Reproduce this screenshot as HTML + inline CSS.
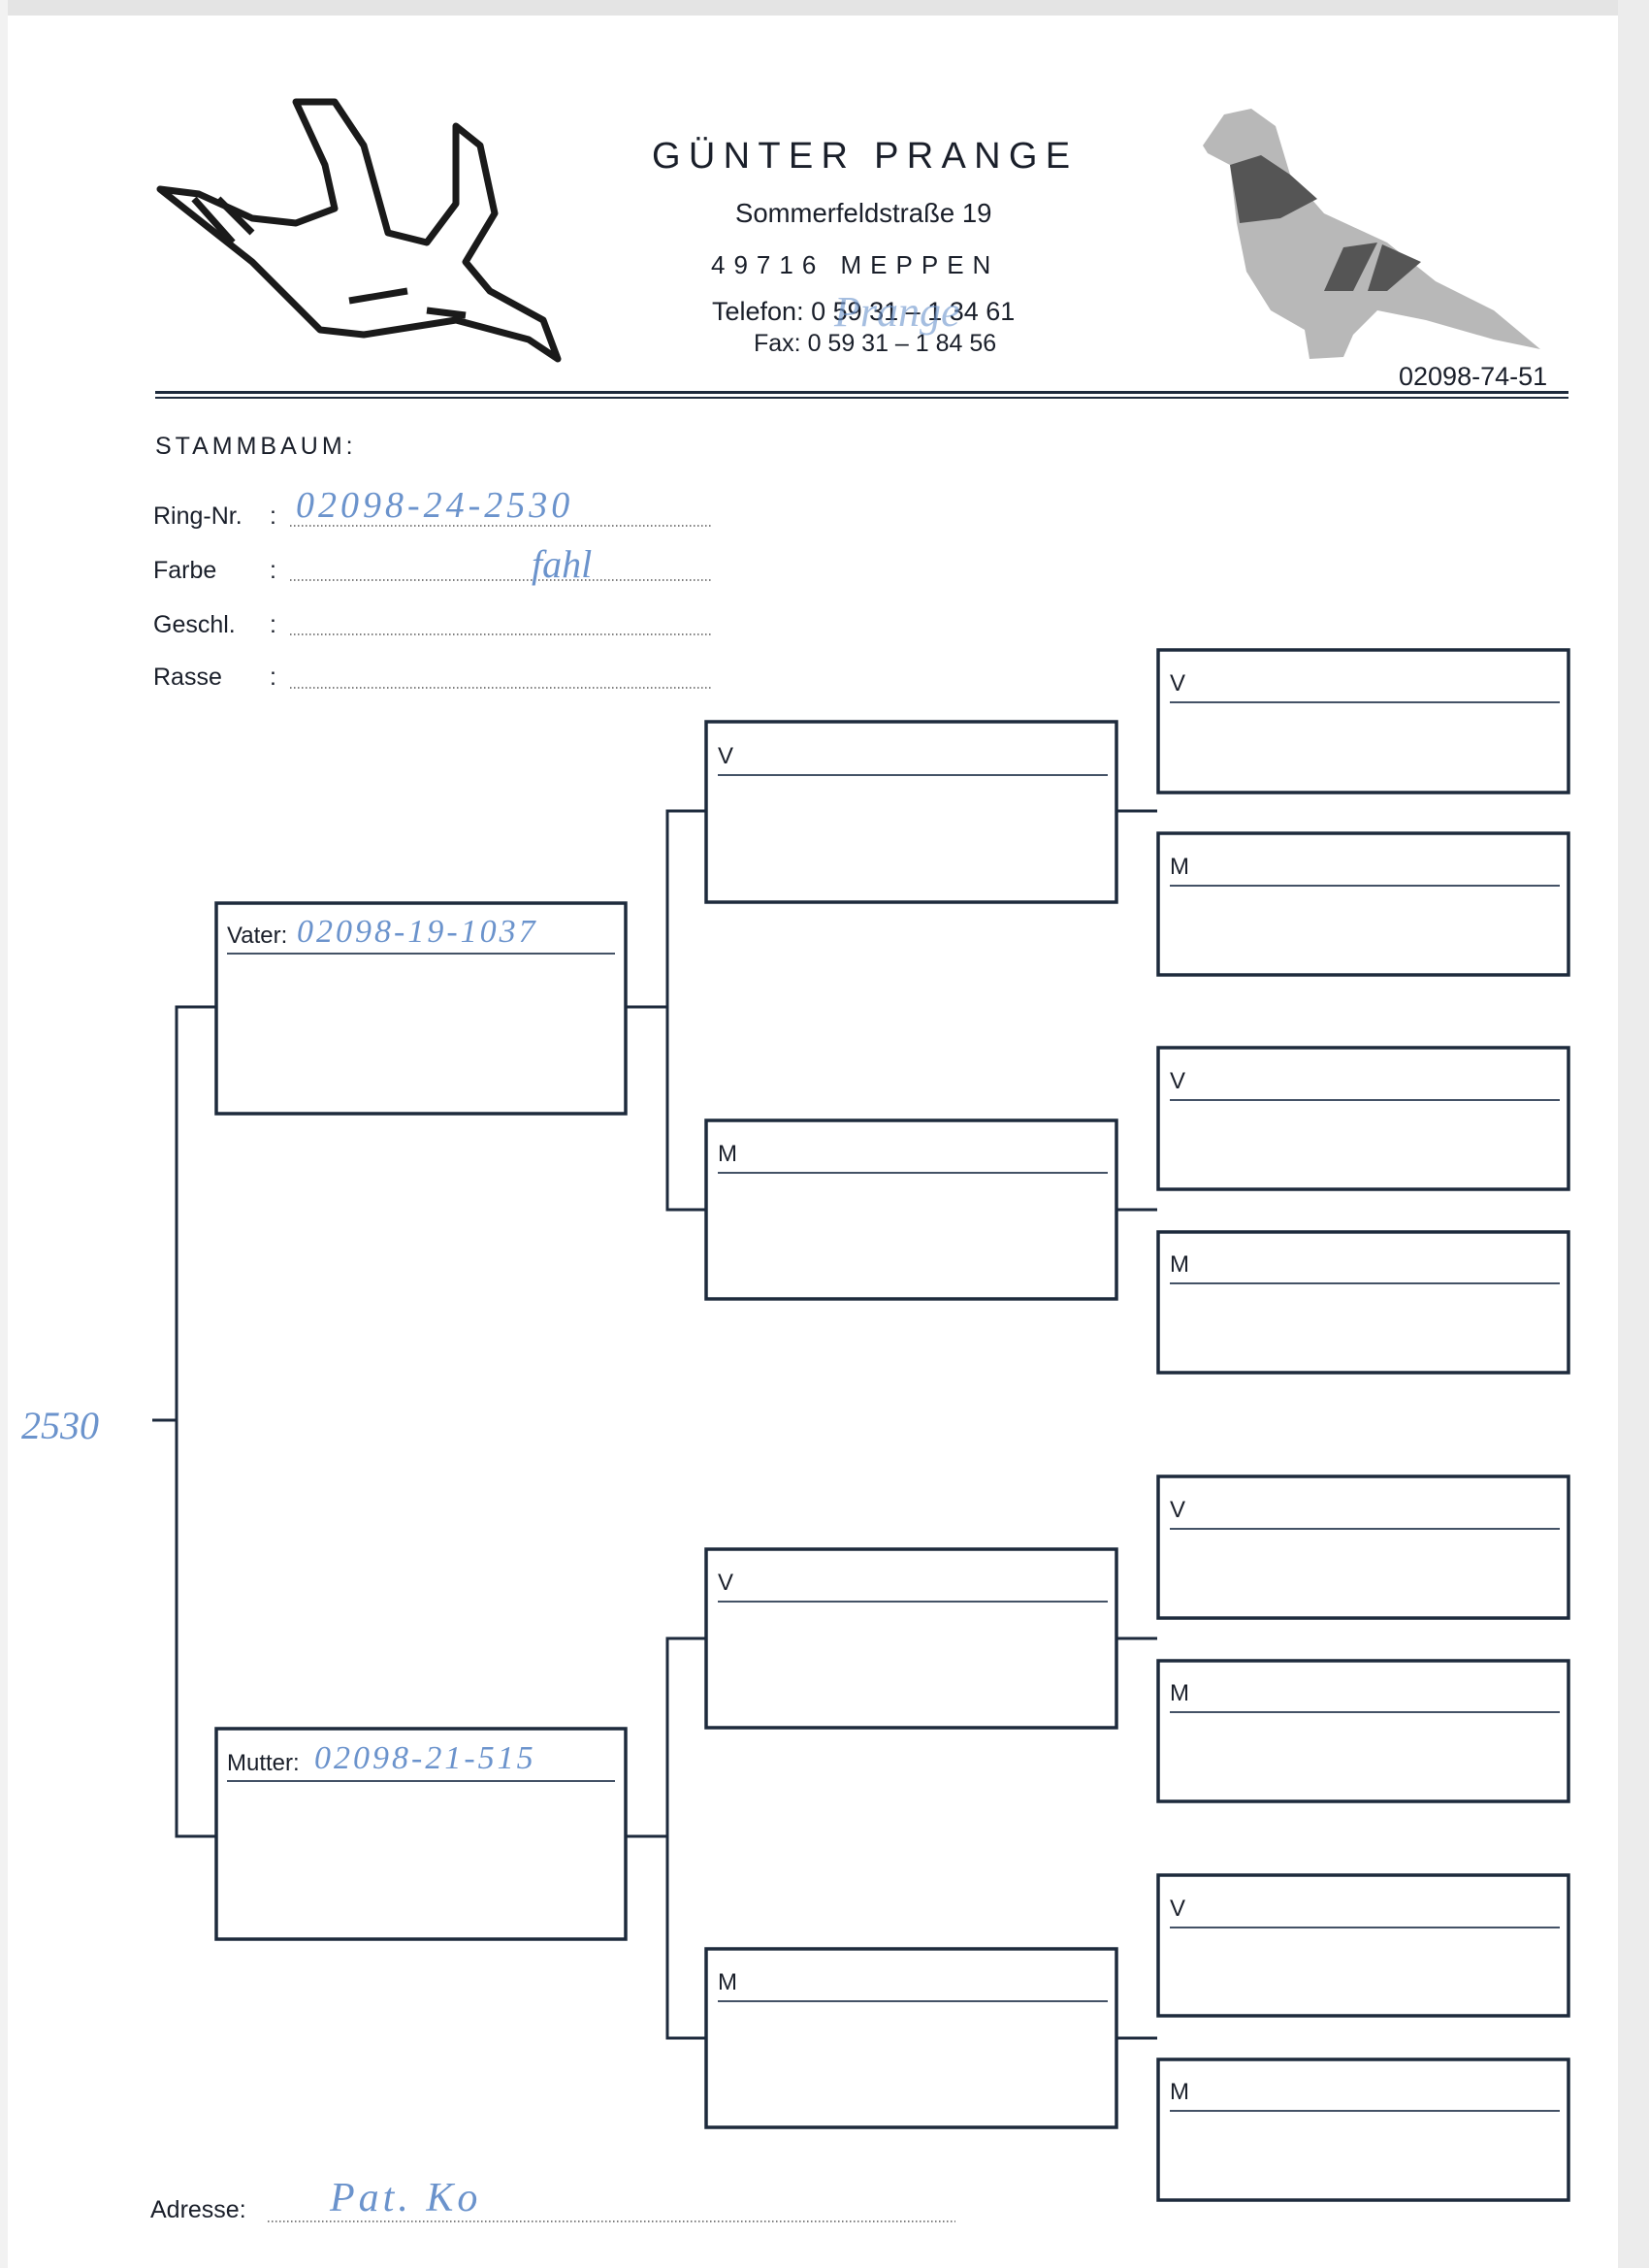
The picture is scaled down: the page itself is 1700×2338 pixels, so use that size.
<!DOCTYPE html>
<html><head><meta charset="utf-8"><style>
html,body{margin:0;padding:0;background:#fff}
body{width:1700px;height:2338px;position:relative;overflow:hidden;font-family:"Liberation Sans",sans-serif;color:#1a1f2a}
.t{position:absolute;white-space:nowrap;line-height:1}
.hw{position:absolute;white-space:nowrap;line-height:1;font-family:"Liberation Serif",serif;font-style:italic;color:#6b93cc}
</style></head><body>
<svg width="1700" height="2338" style="position:absolute;left:0;top:0">
<rect x="0" y="0" width="1700" height="16" fill="#e4e4e4"/>
<rect x="1668" y="0" width="32" height="2338" fill="#ececec"/>
<rect x="0" y="0" width="8" height="2338" fill="#f2f2f2"/>
<!-- bird logo -->
<g fill="none" stroke="#1a1a1a" stroke-width="7" stroke-linejoin="round">
<path d="M165 195 L260 270 L330 340 L375 345 L470 330 L545 350 L575 370 L560 330 L505 300 L480 270 L510 220 L495 150 L470 130 L470 210 L440 250 L400 240 L375 150 L345 105 L305 105 L335 170 L345 215 L305 230 L260 225 L205 200 Z"/>
<path d="M200 205 L240 250 M225 205 L260 240 M360 310 L420 300 M440 320 L480 325"/>
</g>
<!-- pigeon -->
<g>
<path d="M1240 150 L1262 118 L1290 112 L1315 130 L1330 180 L1365 220 L1430 250 L1480 290 L1540 320 L1588 360 L1540 350 L1470 330 L1420 320 L1395 345 L1385 368 L1350 370 L1345 340 L1310 320 L1285 280 L1275 230 L1268 170 L1245 158 Z" fill="#b8b8b8"/>
<path d="M1268 170 L1300 160 L1330 180 L1358 205 L1320 225 L1278 230 Z" fill="#555"/>
<path d="M1385 255 L1420 250 L1395 300 L1365 300 Z M1425 252 L1465 270 L1430 300 L1410 300 Z" fill="#555"/>
</g>
<!-- header lines -->
<rect x="160" y="403" width="1457" height="3" fill="#1d2a3c"/>
<rect x="160" y="409" width="1457" height="2" fill="#1d2a3c"/>
<!-- dotted lines -->
<g stroke="#555" stroke-width="1.5" stroke-dasharray="1.5 2.5">
<line x1="299" y1="542" x2="733" y2="542"/>
<line x1="299" y1="598" x2="733" y2="598"/>
<line x1="299" y1="654" x2="733" y2="654"/>
<line x1="299" y1="709" x2="733" y2="709"/>
<line x1="276" y1="2290" x2="985" y2="2290"/>
</g>
<!-- connectors -->
<g stroke="#1d2a3c" stroke-width="3" fill="none">
<line x1="157" y1="1464" x2="182" y2="1464"/>
<polyline points="222,1038 182,1038 182,1893 222,1893"/>
<line x1="645" y1="1038" x2="688" y2="1038"/>
<polyline points="727,836 688,836 688,1247 727,1247"/>
<line x1="645" y1="1893" x2="688" y2="1893"/>
<polyline points="727,1689 688,1689 688,2101 727,2101"/>
<line x1="1151" y1="836" x2="1193" y2="836"/>
<line x1="1151" y1="1247" x2="1193" y2="1247"/>
<line x1="1151" y1="1689" x2="1193" y2="1689"/>
<line x1="1151" y1="2101" x2="1193" y2="2101"/>
</g>
<!-- boxes -->
<g stroke="#1d2a3c" stroke-width="3.5" fill="none">
<rect x="223" y="931" width="422" height="217"/>
<rect x="223" y="1782" width="422" height="217"/>
<rect x="728" y="744" width="423" height="186"/>
<rect x="728" y="1155" width="423" height="184"/>
<rect x="728" y="1597" width="423" height="184"/>
<rect x="728" y="2009" width="423" height="184"/>
<rect x="1194" y="670" width="423" height="147"/>
<rect x="1194" y="859" width="423" height="146"/>
<rect x="1194" y="1080" width="423" height="146"/>
<rect x="1194" y="1270" width="423" height="145"/>
<rect x="1194" y="1522" width="423" height="146"/>
<rect x="1194" y="1712" width="423" height="145"/>
<rect x="1194" y="1933" width="423" height="145"/>
<rect x="1194" y="2123" width="423" height="145"/>
</g>
<g stroke="#2a3a50" stroke-width="1.8">
<line x1="234" y1="983" x2="634" y2="983"/>
<line x1="234" y1="1836" x2="634" y2="1836"/>
<line x1="740" y1="799" x2="1142" y2="799"/>
<line x1="740" y1="1209" x2="1142" y2="1209"/>
<line x1="740" y1="1651" x2="1142" y2="1651"/>
<line x1="740" y1="2063" x2="1142" y2="2063"/>
<line x1="1206" y1="724" x2="1608" y2="724"/>
<line x1="1206" y1="913" x2="1608" y2="913"/>
<line x1="1206" y1="1134" x2="1608" y2="1134"/>
<line x1="1206" y1="1323" x2="1608" y2="1323"/>
<line x1="1206" y1="1576" x2="1608" y2="1576"/>
<line x1="1206" y1="1765" x2="1608" y2="1765"/>
<line x1="1206" y1="1987" x2="1608" y2="1987"/>
<line x1="1206" y1="2176" x2="1608" y2="2176"/>
</g>
</svg>

<div class="t" style="left:672px;top:142px;font-size:38px;letter-spacing:8.3px">GÜNTER PRANGE</div>
<div class="t" style="left:758px;top:206px;font-size:27.5px">Sommerfeldstraße 19</div>
<div class="t" style="left:733px;top:260px;font-size:26px;letter-spacing:9px">49716 MEPPEN</div>
<div class="t" style="left:734px;top:308px;font-size:27px">Telefon: 0 59 31 – 1 34 61</div>
<div class="t" style="left:777px;top:342px;font-size:25px">Fax: 0 59 31 – 1 84 56</div>
<div class="hw" style="left:860px;top:300px;font-size:44px;opacity:.6">Prange</div>
<div class="t" style="left:1442px;top:375px;font-size:27px">02098-74-51</div>

<div class="t" style="left:160px;top:448px;font-size:25px;letter-spacing:4px">STAMMBAUM:</div>
<div class="t" style="left:158px;top:520px;font-size:25px">Ring-Nr.</div>
<div class="t" style="left:158px;top:576px;font-size:25px">Farbe</div>
<div class="t" style="left:158px;top:632px;font-size:25px">Geschl.</div>
<div class="t" style="left:158px;top:686px;font-size:25px">Rasse</div>
<div class="t" style="left:278px;top:520px;font-size:25px">:</div>
<div class="t" style="left:278px;top:576px;font-size:25px">:</div>
<div class="t" style="left:278px;top:632px;font-size:25px">:</div>
<div class="t" style="left:278px;top:686px;font-size:25px">:</div>
<div class="hw" style="left:305px;top:502px;font-size:38px;letter-spacing:4px">02098-24-2530</div>
<div class="hw" style="left:548px;top:562px;font-size:40px">fahl</div>

<div class="t" style="left:234px;top:953px;font-size:24px">Vater:</div>
<div class="hw" style="left:306px;top:944px;font-size:34px;letter-spacing:3px">02098-19-1037</div>
<div class="t" style="left:234px;top:1806px;font-size:24px">Mutter:</div>
<div class="hw" style="left:324px;top:1796px;font-size:34px;letter-spacing:3px">02098-21-515</div>

<div class="t" style="left:740px;top:768px;font-size:24px">V</div>
<div class="t" style="left:740px;top:1178px;font-size:24px">M</div>
<div class="t" style="left:740px;top:1620px;font-size:24px">V</div>
<div class="t" style="left:740px;top:2032px;font-size:24px">M</div>
<div class="t" style="left:1206px;top:693px;font-size:24px">V</div>
<div class="t" style="left:1206px;top:882px;font-size:24px">M</div>
<div class="t" style="left:1206px;top:1103px;font-size:24px">V</div>
<div class="t" style="left:1206px;top:1292px;font-size:24px">M</div>
<div class="t" style="left:1206px;top:1545px;font-size:24px">V</div>
<div class="t" style="left:1206px;top:1734px;font-size:24px">M</div>
<div class="t" style="left:1206px;top:1956px;font-size:24px">V</div>
<div class="t" style="left:1206px;top:2145px;font-size:24px">M</div>

<div class="hw" style="left:22px;top:1450px;font-size:40px">2530</div>
<div class="t" style="left:155px;top:2266px;font-size:25px">Adresse:</div>
<div class="hw" style="left:340px;top:2245px;font-size:42px;letter-spacing:4px">Pat. Ko</div>
</body></html>
